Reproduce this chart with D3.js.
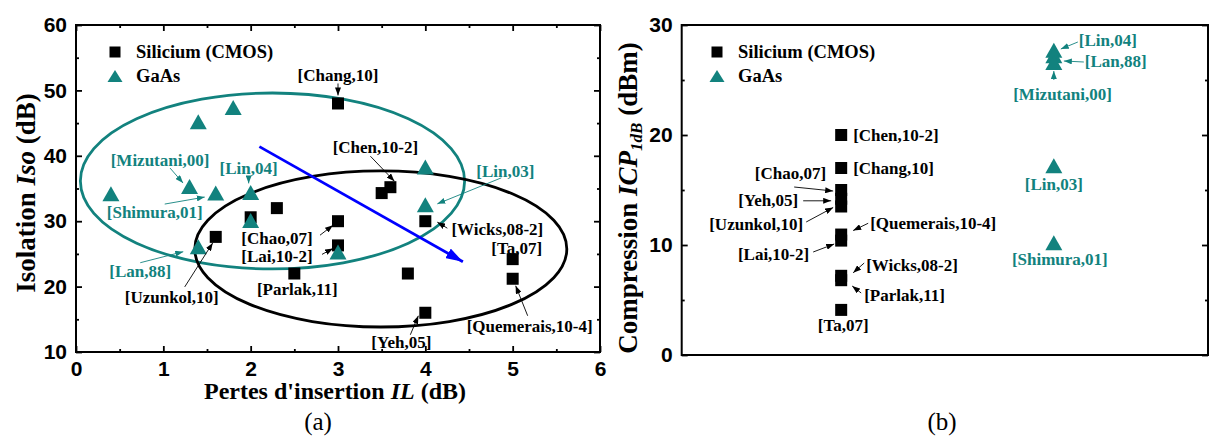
<!DOCTYPE html>
<html><head><meta charset="utf-8">
<script src="https://cdn.jsdelivr.net/npm/d3@7/dist/d3.min.js"></script>
<style>
body{margin:0;background:#fff;}
svg{display:block;}
</style></head><body>
<svg id="chart" width="1209" height="442"></svg>
<script>
// ---------- DATA ----------
const ilTicks = [0, 1, 2, 3, 4, 5, 6];
const isoTicks = [10, 20, 30, 40, 50, 60];
const icpTicks = [0, 10, 20, 30];

// Panel (a): Silicium (CMOS)
const cmosRefsA = ["Chang,10", "", "Chen,10-2", "", "Uzunkol,10", "", "Parlak,11", "Chao,07", "Lai,10-2", "", "Wicks,08-2", "Yeh,05", "Ta,07", "Quemerais,10-4"];
const cmosIL    = [3, 3.5, 3.6, 2.3, 1.6, 2, 2.5, 3, 3, 3.8, 4, 4, 5, 5];
const cmosIso   = [48, 34.3, 35.2, 32, 27.6, 30.6, 22, 30, 26.3, 22, 30, 16, 24.2, 21.2];

// Panel (a): GaAs
const gaasRefsA = ["", "", "", "Mizutani,00", "Shimura,01", "Lin,04", "", "Lan,88", "", "", "Lin,03"];
const gaasIL    = [0.4, 1.4, 1.8, 1.3, 1.6, 2, 2, 1.4, 3, 4, 4];
const gaasIso   = [34.2, 45.2, 47.4, 35.3, 34.3, 34.4, 30.1, 26.1, 25.3, 38.3, 32.5];

// Panel (b): ICP1dB
const cmosRefsB = ["Chen,10-2", "Chang,10", "Chao,07", "Yeh,05", "Uzunkol,10", "Quemerais,10-4", "Lai,10-2", "Wicks,08-2", "Parlak,11", "Ta,07"];
const cmosICP   = [20, 17, 15, 14.2, 13.5, 10.95, 10.4, 7.2, 6.8, 4.1];
const gaasRefsB = ["Lin,04", "Lan,88", "Mizutani,00", "Lin,03", "Shimura,01"];
const gaasICP   = [27.7, 27.2, 26.6, 17.2, 10.2];
const groupPosB = {cmos: 3, gaas: 7};

// Trend arrow and grouping ellipses (data units)
const trendArrow = {il: [2.1, 4.43], iso: [41.4, 23.8]};
const ellipseGaAs = {il: 2.25, iso: 36.15, ril: 2.2, riso: 13.45};
const ellipseCMOS = {il: 3.49, iso: 25.75, ril: 2.13, riso: 11.93};

// ---------- LAYOUT / STYLE ----------
const TEAL = "#12827e";
const serif = "'Liberation Serif','Times New Roman',serif";
const sans = "'Liberation Sans',Arial,sans-serif";
const LABEL_FS = 17;
const svg = d3.select("#chart");

// label placements (pixel offsets from the referenced point)
const labA = {
  "Chang,10": {dx:0, dy:-28, a:"middle", arr:[0,-20,0,-8]},
  "Chen,10-2": {dx:-15, dy:-40, a:"middle", arr:[-20,-31,4,-6]},
  "Uzunkol,10": {dx:-44, dy:61, a:"middle", arr:[-31,50,-3,6]},
  "Parlak,11": {dx:3, dy:16, a:"middle"},
  "Chao,07": {dx:-61, dy:17, a:"middle", arr:[-18,14,-5,4]},
  "Lai,10-2": {dx:-61, dy:11, a:"middle", arr:[-16,9,-5,3]},
  "Wicks,08-2": {dx:72, dy:8, a:"middle", arr:[22,7,12,1]},
  "Yeh,05": {dx:-24, dy:30, a:"middle", arr:[-15,22,-7,3]},
  "Ta,07": {dx:4, dy:-11, a:"middle"},
  "Quemerais,10-4": {dx:17, dy:48, a:"middle", arr:[15,37,3,7]},
  "Mizutani,00": {dx:-29.5, dy:-26.5, a:"middle", arr:[-19.5,-18.5,-6.5,-3.5]},
  "Shimura,01": {dx:-61, dy:19, a:"middle", arr:[-51,11,-11,4]},
  "Lin,04": {dx:-2, dy:-24, a:"middle", arr:[-2,-16,-2,-9]},
  "Lan,88": {dx:-58, dy:25, a:"middle", arr:[-58,16,-15,5]},
  "Lin,03": {dx:80, dy:-33, a:"middle", arr:[76,-27,12,-1]}
};
const labB = {
  "Chen,10-2": {dx:12, dy:0, a:"start"},
  "Chang,10": {dx:12, dy:0, a:"start"},
  "Chao,07": {dx:-15, dy:-17, a:"end", arr:[-47,-3,-8,1]},
  "Yeh,05": {dx:-43, dy:1.2, a:"end", arr:[-38,2,-10,2]},
  "Uzunkol,10": {dx:-38, dy:17.5, a:"end", arr:[-35,15.5,-8,1]},
  "Quemerais,10-4": {dx:29, dy:-10.6, a:"start", arr:[27,-11.3,12,-4]},
  "Lai,10-2": {dx:-32, dy:13.4, a:"end", arr:[-28,11.4,-7,3.4]},
  "Wicks,08-2": {dx:25, dy:-10.8, a:"start", arr:[23,-12.8,12,-3]},
  "Parlak,11": {dx:23, dy:14.8, a:"start", arr:[20,12.8,11,5.8]},
  "Ta,07": {dx:2, dy:16, a:"middle"},
  "Lin,04": {dx:25, dy:-9.6, a:"start", arr:[24,-8.3,7,-1.3]},
  "Lan,88": {dx:31, dy:6, a:"start", arr:[30,6.2,10,5.2]},
  "Mizutani,00": {dx:8.7, dy:31.6, a:"middle", arr:[0,17.6,0,8.6]},
  "Lin,03": {dx:0, dy:19, a:"middle"},
  "Shimura,01": {dx:6, dy:16.5, a:"middle"}
};

// markers
const defs = svg.append("defs");
[["arrK","#000",8,6],["arrT",TEAL,8,6],["arrBlue","#0000ff",17,11]].forEach(([id,c,w,h])=>{
  defs.append("marker").attr("id",id).attr("markerUnits","userSpaceOnUse")
    .attr("markerWidth",w).attr("markerHeight",h).attr("refX",w).attr("refY",h/2)
    .attr("orient","auto")
    .append("path").attr("d",`M0,0L${w},${h/2}L0,${h}Z`).attr("fill",c);
});

const SQ = 12, TW = 17, TH = 15;
function triPath(w,h){return `M0,${-h/2}L${w/2},${h/2}L${-w/2},${h/2}Z`;}
const mids = t => d3.pairs(t).map(([a,b])=>(a+b)/2);

function drawAxes(g, x, y, opt){
  const tk = sel => sel.selectAll("line").attr("stroke","#000").attr("stroke-width",1.8);
  const clean = sel => sel.select(".domain").remove();
  const style = sel => sel.selectAll("text").attr("font-family",sans).attr("font-weight","bold").attr("font-size",21).attr("fill","#000");
  const [x0,x1] = x.range(), [y0,y1] = y.range();
  if (opt.xTicks){
    g.append("g").attr("transform",`translate(0,${y0})`)
      .call(d3.axisBottom(x).tickValues(opt.xTicks).tickSize(-6).tickPadding(9).tickFormat(d3.format("d")))
      .call(clean).call(tk).call(style);
    g.append("g").attr("transform",`translate(0,${y0})`)
      .call(d3.axisBottom(x).tickValues(mids(opt.xTicks)).tickSize(-3).tickFormat("")).call(clean).call(tk);
    g.append("g").attr("transform",`translate(0,${y1})`)
      .call(d3.axisTop(x).tickValues(opt.xTicks).tickSize(-6).tickFormat("")).call(clean).call(tk);
    g.append("g").attr("transform",`translate(0,${y1})`)
      .call(d3.axisTop(x).tickValues(mids(opt.xTicks)).tickSize(-3).tickFormat("")).call(clean).call(tk);
  }
  g.append("g").attr("transform",`translate(${x0},0)`)
    .call(d3.axisLeft(y).tickValues(opt.yTicks).tickSize(-6).tickPadding(9).tickFormat(d3.format("d")))
    .call(clean).call(tk).call(style);
  g.append("g").attr("transform",`translate(${x0},0)`)
    .call(d3.axisLeft(y).tickValues(mids(opt.yTicks)).tickSize(-3).tickFormat("")).call(clean).call(tk);
  g.append("g").attr("transform",`translate(${x1},0)`)
    .call(d3.axisRight(y).tickValues(opt.yTicks).tickSize(-6).tickFormat("")).call(clean).call(tk);
  g.append("g").attr("transform",`translate(${x1},0)`)
    .call(d3.axisRight(y).tickValues(mids(opt.yTicks)).tickSize(-3).tickFormat("")).call(clean).call(tk);
  g.append("rect").attr("x",x0).attr("y",y1).attr("width",x1-x0).attr("height",y0-y1)
    .attr("fill","none").attr("stroke","#000").attr("stroke-width",2);
}

function legend(g, x, y){
  g.append("rect").attr("x",x-5.5).attr("y",y-5.5).attr("width",11).attr("height",11).attr("fill","#000");
  g.append("text").attr("x",x+21).attr("y",y).attr("dominant-baseline","central")
    .attr("font-family",serif).attr("font-weight","bold").attr("font-size",18.5).text("Silicium (CMOS)");
  g.append("path").attr("d",triPath(15,12)).attr("transform",`translate(${x},${y+24})`).attr("fill",TEAL);
  g.append("text").attr("x",x+21).attr("y",y+24).attr("dominant-baseline","central")
    .attr("font-family",serif).attr("font-weight","bold").attr("font-size",18.5).text("GaAs");
}

function annotate(g, px, py, ref, spec, color, marker){
  if(!spec) return;
  if(spec.arr){
    g.append("line").attr("x1",px+spec.arr[0]).attr("y1",py+spec.arr[1])
      .attr("x2",px+spec.arr[2]).attr("y2",py+spec.arr[3])
      .attr("stroke",color).attr("stroke-width",0.9).attr("marker-end",`url(#${marker})`);
  }
  g.append("text").attr("x",px+spec.dx).attr("y",py+spec.dy)
    .attr("text-anchor",spec.a).attr("dominant-baseline","central")
    .attr("font-family",serif).attr("font-weight","bold").attr("font-size",LABEL_FS)
    .attr("fill",color).text(`[${ref}]`);
}

// ---------- PANEL (a) ----------
const xA = d3.scaleLinear().domain([0,6]).range([76,600]);
const yA = d3.scaleLinear().domain([10,60]).range([352,25]);
const gA = svg.append("g");

function ellipse(g, e, color){
  g.append("ellipse")
    .attr("cx",xA(e.il)).attr("cy",yA(e.iso))
    .attr("rx",xA(e.il+e.ril)-xA(e.il)).attr("ry",yA(e.iso-e.riso)-yA(e.iso))
    .attr("fill","none").attr("stroke",color).attr("stroke-width",2.8);
}
ellipse(gA, ellipseGaAs, TEAL);
ellipse(gA, ellipseCMOS, "#000");

gA.append("line")
  .attr("x1",xA(trendArrow.il[0])).attr("y1",yA(trendArrow.iso[0]))
  .attr("x2",xA(trendArrow.il[1])).attr("y2",yA(trendArrow.iso[1]))
  .attr("stroke","#0000ff").attr("stroke-width",2.8).attr("marker-end","url(#arrBlue)");

const cmosA = cmosIL.map((v,i)=>({x:v,y:cmosIso[i],ref:cmosRefsA[i]}));
const gaasA = gaasIL.map((v,i)=>({x:v,y:gaasIso[i],ref:gaasRefsA[i]}));
gA.selectAll("rect.sq").data(cmosA).enter().append("rect").attr("class","sq")
  .attr("x",d=>xA(d.x)-SQ/2).attr("y",d=>yA(d.y)-SQ/2).attr("width",SQ).attr("height",SQ).attr("fill","#000");
gA.selectAll("path.tri").data(gaasA).enter().append("path").attr("class","tri")
  .attr("d",triPath(TW,TH)).attr("transform",d=>`translate(${xA(d.x)},${yA(d.y)})`).attr("fill",TEAL);

drawAxes(gA, xA, yA, {xTicks: ilTicks, yTicks: isoTicks});
legend(gA, 115, 52);

cmosA.forEach(d=>{ if(d.ref) annotate(gA, xA(d.x), yA(d.y), d.ref, labA[d.ref], "#000", "arrK"); });
gaasA.forEach(d=>{ if(d.ref) annotate(gA, xA(d.x), yA(d.y), d.ref, labA[d.ref], TEAL, "arrT"); });

// axis titles (a)
gA.append("text").attr("x",335).attr("y",391).attr("text-anchor","middle").attr("dominant-baseline","central")
  .attr("font-family",serif).attr("font-weight","bold").attr("font-size",24)
  .call(t=>{t.append("tspan").text("Pertes d'insertion ");t.append("tspan").attr("font-style","italic").text("IL");t.append("tspan").text(" (dB)");});
gA.append("text").attr("transform","translate(26,193) rotate(-90)").attr("text-anchor","middle").attr("dominant-baseline","central")
  .attr("font-family",serif).attr("font-weight","bold").attr("font-size",27)
  .call(t=>{t.append("tspan").text("Isolation ");t.append("tspan").attr("font-style","italic").text("Iso");t.append("tspan").text(" (dB)");});
gA.append("text").attr("x",318).attr("y",421).attr("text-anchor","middle").attr("dominant-baseline","central")
  .attr("font-family",serif).attr("font-size",25).text("(a)");

// ---------- PANEL (b) ----------
const xB = d3.scaleLinear().domain([0,9.9]).range([681.7,1208]);
const yB = d3.scaleLinear().domain([0,30]).range([355,25]);
const gB = svg.append("g");

const cmosB = cmosICP.map((v,i)=>({x:groupPosB.cmos,y:v,ref:cmosRefsB[i]}));
const gaasB = gaasICP.map((v,i)=>({x:groupPosB.gaas,y:v,ref:gaasRefsB[i]}));
gB.selectAll("rect.sq").data(cmosB).enter().append("rect").attr("class","sq")
  .attr("x",d=>xB(d.x)-SQ/2).attr("y",d=>yB(d.y)-SQ/2).attr("width",SQ).attr("height",SQ).attr("fill","#000");
gB.selectAll("path.tri").data(gaasB).enter().append("path").attr("class","tri")
  .attr("d",triPath(TW,TH)).attr("transform",d=>`translate(${xB(d.x)},${yB(d.y)})`).attr("fill",TEAL);

drawAxes(gB, xB, yB, {yTicks: icpTicks});
legend(gB, 717, 52);

cmosB.forEach(d=>annotate(gB, xB(d.x), yB(d.y), d.ref, labB[d.ref], "#000", "arrK"));
gaasB.forEach(d=>annotate(gB, xB(d.x), yB(d.y), d.ref, labB[d.ref], TEAL, "arrT"));

gB.append("text").attr("transform","translate(628,198) rotate(-90)").attr("text-anchor","middle").attr("dominant-baseline","central")
  .attr("font-family",serif).attr("font-weight","bold").attr("font-size",27)
  .call(t=>{
    t.append("tspan").text("Compression ");
    t.append("tspan").attr("font-style","italic").text("ICP");
    t.append("tspan").attr("font-style","italic").attr("font-size",17).attr("dy",8).text("1dB");
    t.append("tspan").attr("dy",-8).text(" (dBm)");
  });
gB.append("text").attr("x",942).attr("y",421).attr("text-anchor","middle").attr("dominant-baseline","central")
  .attr("font-family",serif).attr("font-size",25).text("(b)");
</script>
</body></html>
